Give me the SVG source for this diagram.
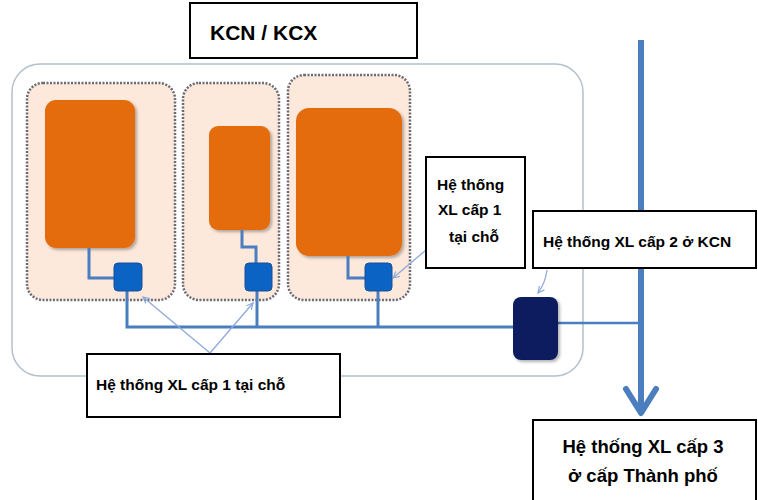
<svg xmlns="http://www.w3.org/2000/svg" width="758" height="500" viewBox="0 0 758 500">
<defs>
<style>
.lbl{fill:#fff;stroke:#000;stroke-width:2}
.t{font-family:"Liberation Sans",Arial,sans-serif;font-weight:bold;fill:#000}
.zone{fill:#fde9dc;stroke:#6b6b75;stroke-width:2.5;stroke-dasharray:2 1.5}
.fac{fill:#e46c0a}
.unit{fill:#0b64c4;stroke:#1a4f95;stroke-width:1}
.pipe{fill:none;stroke:#4a7ebf;stroke-width:3}
.ptr{fill:none;stroke:#8eaadb;stroke-width:1.3}
</style>
<marker id="ah" viewBox="0 0 10 10" refX="9" refY="5" markerWidth="8" markerHeight="8" orient="auto" markerUnits="userSpaceOnUse">
<path d="M1,1 L9,5 L1,9" fill="none" stroke="#8eaadb" stroke-width="1.5"/>
</marker>
<filter id="sh" x="-20%" y="-20%" width="140%" height="140%">
<feDropShadow dx="2" dy="2" stdDeviation="1.5" flood-color="#000" flood-opacity="0.3"/>
</filter>
</defs>
<rect width="758" height="500" fill="#fff"/>

<g id="kcn-area">
<rect x="12" y="64" width="571" height="312" rx="28" fill="#fff" stroke="#b4c0cc" stroke-width="1.5"/>
</g>

<g id="zone1"><rect class="zone" x="27" y="83" width="148" height="217" rx="16"/></g>
<g id="zone2"><rect class="zone" x="183" y="83" width="96" height="217" rx="16"/></g>
<g id="zone3"><rect class="zone" x="288" y="75" width="122" height="225" rx="16"/></g>

<g id="factory1"><rect class="fac" x="45" y="100" width="90" height="148" rx="11" filter="url(#sh)"/></g>
<g id="factory2"><rect class="fac" x="209" y="126" width="61" height="104" rx="9" filter="url(#sh)"/></g>
<g id="factory3"><rect class="fac" x="296" y="108" width="106" height="148" rx="13" filter="url(#sh)"/></g>

<g id="connectors">
<path class="pipe" d="M89,248 V278 H115"/>
<path class="pipe" d="M242,230 V247 H256 V263"/>
<path class="pipe" d="M348,256 V278 H366"/>
<path class="pipe" d="M127,291 V327 H515"/>
<path class="pipe" d="M257,291 V327"/>
<path class="pipe" d="M378,291 V327"/>
<path fill="none" stroke="#4a7ebf" stroke-width="2.5" d="M557,323 H640"/>
<path fill="none" stroke="#4a7ebf" stroke-width="6" d="M641,40 V412"/>
<path fill="none" stroke="#4a7ebf" stroke-width="6" stroke-linecap="round" stroke-linejoin="round" d="M626,389 L641,413 L656,389"/>
<path class="ptr" d="M210,353 L143,297" marker-end="url(#ah)"/>
<path class="ptr" d="M210,353 L253,303" marker-end="url(#ah)"/>
<path class="ptr" d="M426,250 L393,278" marker-end="url(#ah)"/>
<path class="ptr" d="M547,270 Q545,284 538,293" marker-end="url(#ah)"/>
</g>

<g id="unit1"><rect class="unit" x="114" y="263" width="28" height="28" rx="4"/></g>
<g id="unit2"><rect class="unit" x="245" y="263" width="27" height="28" rx="4"/></g>
<g id="unit3"><rect class="unit" x="365" y="263" width="27" height="28" rx="4"/></g>

<g id="kcn-plant"><rect x="513" y="297" width="45" height="63" rx="8" fill="#0b1f5e" filter="url(#sh)"/></g>

<g id="label-kcn">
<rect class="lbl" x="190" y="3" width="227" height="55"/>
<text class="t" x="210" y="40" font-size="21">KCN / KCX</text>
</g>

<g id="label-cap1-right">
<rect class="lbl" x="426" y="157" width="99" height="111"/>
<text class="t" font-size="15.5"><tspan x="437" y="190">Hệ thống</tspan><tspan x="438" y="215">XL cấp 1</tspan><tspan x="449" y="242">tại chỗ</tspan></text>
</g>

<g id="label-cap2">
<rect class="lbl" x="533" y="211" width="223" height="57"/>
<text class="t" x="543" y="247" font-size="15.5">Hệ thống XL cấp 2 ở KCN</text>
</g>

<g id="label-cap1-bottom">
<rect class="lbl" x="87" y="354" width="253" height="63"/>
<text class="t" x="96" y="390" font-size="15.5">Hệ thống XL cấp 1 tại chỗ</text>
</g>

<g id="label-cap3">
<rect class="lbl" x="533" y="420" width="223" height="82"/>
<text class="t" font-size="18.5" text-anchor="middle"><tspan x="643" y="453">Hệ thống XL cấp 3</tspan><tspan x="643" y="482">ở cấp Thành phố</tspan></text>
</g>
</svg>
